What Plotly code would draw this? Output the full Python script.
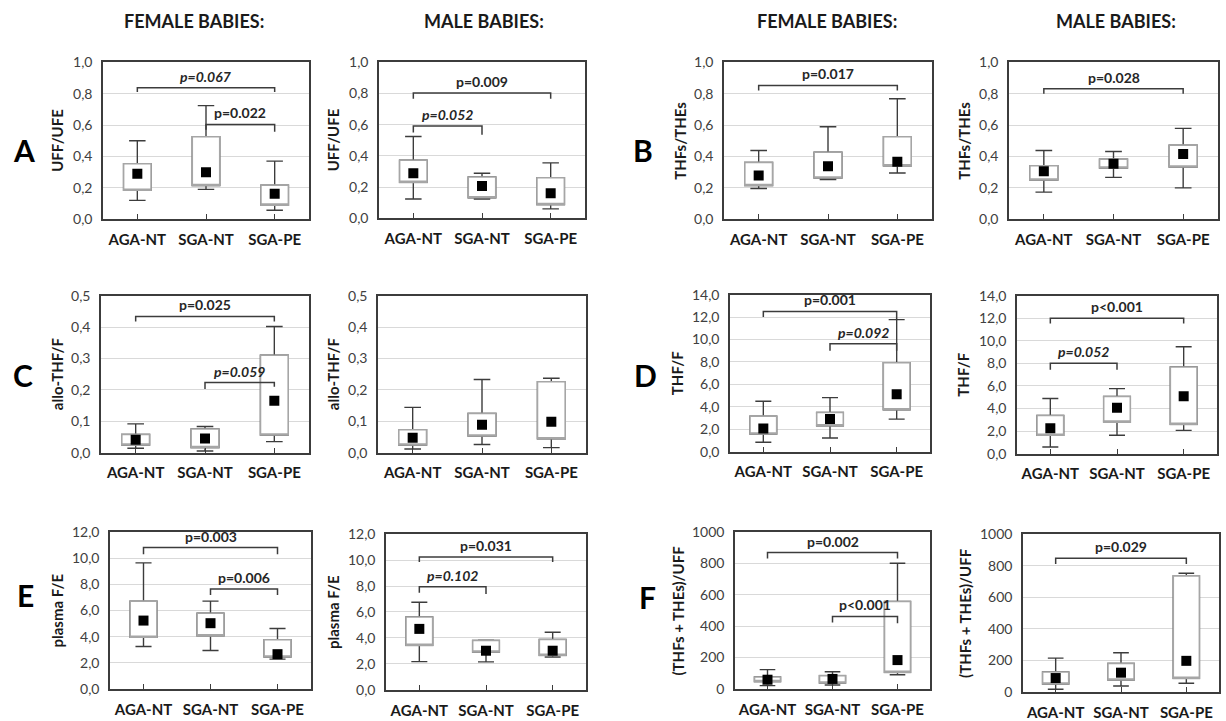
import plotly.graph_objects as go

GROUPS = ["AGA-NT", "SGA-NT", "SGA-PE"]

# ---------------- Panel A : UFF/UFE ----------------
A_F_LOW = [0.12, 0.19, 0.057]
A_F_Q1 = [0.185, 0.215, 0.09]
A_F_MID = [0.29, 0.30, 0.162]
A_F_Q3 = [0.354, 0.526, 0.217]
A_F_HIGH = [0.50, 0.724, 0.37]
A_F_TESTS = [("p=0.067", "AGA-NT", "SGA-PE", 0.838, 0.81, 0.81, True),
             ("p=0.022", "SGA-NT", "SGA-PE", 0.604, 0.57, 0.558, False)]

A_M_LOW = [0.123, 0.123, 0.06]
A_M_Q1 = [0.23, 0.131, 0.087]
A_M_MID = [0.288, 0.207, 0.161]
A_M_Q3 = [0.372, 0.264, 0.26]
A_M_HIGH = [0.524, 0.288, 0.355]
A_M_TESTS = [("p=0.009", "AGA-NT", "SGA-PE", 0.803, 0.767, 0.767, False),
             ("p=0.052", "AGA-NT", "SGA-NT", 0.592, 0.55, 0.535, True)]

# ---------------- Panel B : THFs/THEs ----------------
B_F_LOW = [0.196, 0.253, 0.295]
B_F_Q1 = [0.215, 0.263, 0.341]
B_F_MID = [0.278, 0.337, 0.366]
B_F_Q3 = [0.362, 0.427, 0.526]
B_F_HIGH = [0.438, 0.589, 0.768]
B_F_TESTS = [("p=0.017", "AGA-NT", "SGA-PE", 0.853, 0.821, 0.821, False)]

B_M_LOW = [0.173, 0.267, 0.20]
B_M_Q1 = [0.25, 0.326, 0.333]
B_M_MID = [0.305, 0.354, 0.415]
B_M_Q3 = [0.341, 0.383, 0.472]
B_M_HIGH = [0.438, 0.432, 0.579]
B_M_TESTS = [("p=0.028", "AGA-NT", "SGA-PE", 0.832, 0.80, 0.80, False)]

# ---------------- Panel C : allo-THF/F ----------------
C_F_LOW = [0.0137, 0.005, 0.035]
C_F_Q1 = [0.024, 0.016, 0.056]
C_F_MID = [0.041, 0.045, 0.165]
C_F_Q3 = [0.058, 0.075, 0.31]
C_F_HIGH = [0.0916, 0.083, 0.402]
C_F_TESTS = [("p=0.025", "AGA-NT", "SGA-PE", 0.434, 0.418, 0.418, False),
             ("p=0.059", "SGA-NT", "SGA-PE", 0.223, 0.203, 0.21, True)]

C_M_LOW = [0.0116, 0.026, 0.016]
C_M_Q1 = [0.024, 0.053, 0.044]
C_M_MID = [0.047, 0.089, 0.098]
C_M_Q3 = [0.073, 0.125, 0.226]
C_M_HIGH = [0.144, 0.233, 0.237]
C_M_TESTS = []

# ---------------- Panel D : THF/F ----------------
D_F_LOW = [0.83, 1.21, 2.9]
D_F_Q1 = [1.57, 2.31, 3.73]
D_F_MID = [2.07, 2.9, 5.12]
D_F_Q3 = [3.17, 3.49, 7.93]
D_F_HIGH = [4.5, 4.82, 11.78]
D_F_TESTS = [("p=0.001", "AGA-NT", "SGA-PE", 12.51, 12.0, 11.78, False),
             ("p=0.092", "SGA-NT", "SGA-PE", 9.62, 9.0, 9.0, True)]

D_M_LOW = [0.59, 1.62, 2.06]
D_M_Q1 = [1.62, 2.79, 2.59]
D_M_MID = [2.24, 4.06, 5.09]
D_M_Q3 = [3.38, 5.06, 7.68]
D_M_HIGH = [4.88, 5.76, 9.47]
D_M_TESTS = [("p<0.001", "AGA-NT", "SGA-PE", 12.0, 11.53, 11.53, False),
             ("p=0.052", "AGA-NT", "SGA-NT", 8.0, 7.44, 7.44, True)]

# ---------------- Panel E : plasma F/E ----------------
E_F_LOW = [3.25, 2.94, 2.28]
E_F_Q1 = [3.96, 4.06, 2.44]
E_F_MID = [5.23, 5.03, 2.66]
E_F_Q3 = [6.72, 5.79, 3.76]
E_F_HIGH = [9.64, 6.72, 4.62]
E_F_TESTS = [("p=0.003", "AGA-NT", "SGA-PE", 10.81, 10.3, 10.3, False),
             ("p=0.006", "SGA-NT", "SGA-PE", 7.64, 7.18, 7.18, False)]

E_M_LOW = [2.18, 2.16, 2.54]
E_M_Q1 = [3.43, 2.92, 2.66]
E_M_MID = [4.7, 3.02, 3.02]
E_M_Q3 = [5.61, 3.81, 3.88]
E_M_HIGH = [6.75, 3.83, 4.44]
E_M_TESTS = [("p=0.031", "AGA-NT", "SGA-PE", 10.23, 9.85, 9.85, False),
             ("p=0.102", "AGA-NT", "SGA-NT", 7.94, 7.49, 7.39, True)]

# ---------------- Panel F : (THFs + THEs)/UFF ----------------
F_F_LOW = [21, 25, 91]
F_F_Q1 = [47, 38, 106]
F_F_MID = [59, 64, 184]
F_F_Q3 = [76, 85, 557]
F_F_HIGH = [123, 110, 801]
F_F_TESTS = [("p=0.002", "AGA-NT", "SGA-PE", 869, 831, 831, False),
             ("p<0.001", "SGA-NT", "SGA-PE", 462, 424, 419, False)]

F_M_LOW = [17, 38, 55]
F_M_Q1 = [50, 76, 86]
F_M_MID = [88, 122, 197]
F_M_Q3 = [126, 181, 735]
F_M_HIGH = [214, 248, 752]
F_M_TESTS = [("p=0.029", "AGA-NT", "SGA-PE", 847, 811, 811, False)]

Y_LABELS = ["UFF/UFE", "THFs/THEs", "allo-THF/F", "THF/F", "plasma F/E", "(THFs + THEs)/UFF"]

# ---------------- layout helpers ----------------
W, H = 1226, 721
FONT = "Lato"
DARK = "#3c3c3c"
BOXLINE = "#a6a6a6"
GRID = "#d9d9d9"


def py(y):
    # vertical pixel placement, corrected for the observed page offset/compression
    return y / 0.979 - 8.5


PANELS = [
    dict(rect=(103, 62, 309, 220), ymax=1.0, step=0.2, fmt=".1f", lab=Y_LABELS[0], labx=57,
         d=(A_F_LOW, A_F_Q1, A_F_MID, A_F_Q3, A_F_HIGH, A_F_TESTS)),
    dict(rect=(379, 62, 585, 219), ymax=1.0, step=0.2, fmt=".1f", lab=Y_LABELS[0], labx=333,
         d=(A_M_LOW, A_M_Q1, A_M_MID, A_M_Q3, A_M_HIGH, A_M_TESTS)),
    dict(rect=(724, 62, 932, 220), ymax=1.0, step=0.2, fmt=".1f", lab=Y_LABELS[1], labx=680,
         d=(B_F_LOW, B_F_Q1, B_F_MID, B_F_Q3, B_F_HIGH, B_F_TESTS)),
    dict(rect=(1009, 62, 1218, 220), ymax=1.0, step=0.2, fmt=".1f", lab=Y_LABELS[1], labx=964,
         d=(B_M_LOW, B_M_Q1, B_M_MID, B_M_Q3, B_M_HIGH, B_M_TESTS)),
    dict(rect=(101, 297, 309, 455), ymax=0.5, step=0.1, fmt=".1f", lab=Y_LABELS[2], labx=57,
         d=(C_F_LOW, C_F_Q1, C_F_MID, C_F_Q3, C_F_HIGH, C_F_TESTS)),
    dict(rect=(378, 297, 586, 455), ymax=0.5, step=0.1, fmt=".1f", lab=Y_LABELS[2], labx=333,
         d=(C_M_LOW, C_M_Q1, C_M_MID, C_M_Q3, C_M_HIGH, C_M_TESTS)),
    dict(rect=(730, 296, 930, 454), ymax=14.0, step=2.0, fmt=".1f", lab=Y_LABELS[3], labx=677,
         d=(D_F_LOW, D_F_Q1, D_F_MID, D_F_Q3, D_F_HIGH, D_F_TESTS)),
    dict(rect=(1017, 297, 1217, 456), ymax=14.0, step=2.0, fmt=".1f", lab=Y_LABELS[3], labx=963,
         d=(D_M_LOW, D_M_Q1, D_M_MID, D_M_Q3, D_M_HIGH, D_M_TESTS)),
    dict(rect=(110, 535, 311, 693), ymax=12.0, step=2.0, fmt=".1f", lab=Y_LABELS[4], labx=57,
         d=(E_F_LOW, E_F_Q1, E_F_MID, E_F_Q3, E_F_HIGH, E_F_TESTS)),
    dict(rect=(386, 537, 586, 694), ymax=12.0, step=2.0, fmt=".1f", lab=Y_LABELS[4], labx=333,
         d=(E_M_LOW, E_M_Q1, E_M_MID, E_M_Q3, E_M_HIGH, E_M_TESTS)),
    dict(rect=(735, 535, 930, 693), ymax=1000, step=200, fmt="d", lab=Y_LABELS[5], labx=678,
         d=(F_F_LOW, F_F_Q1, F_F_MID, F_F_Q3, F_F_HIGH, F_F_TESTS)),
    dict(rect=(1023, 537, 1219, 696), ymax=1000, step=200, fmt="d", lab=Y_LABELS[5], labx=965,
         d=(F_M_LOW, F_M_Q1, F_M_MID, F_M_Q3, F_M_HIGH, F_M_TESTS)),
]

fig = go.Figure()
annotations = []
layout_axes = {}
xs = list(range(len(GROUPS)))

for k, p in enumerate(PANELS, start=1):
    l, t, r, b = p["rect"]
    t, b = py(t), py(b)
    xa = "x" if k == 1 else f"x{k}"
    ya = "y" if k == 1 else f"y{k}"
    low, q1, mid, q3, high, tests = p["d"]

    # whiskers (dark)
    fig.add_trace(go.Box(x=xs, q1=q1, median=q1, q3=q3, lowerfence=low, upperfence=high,
                         width=0.4, whiskerwidth=0.6, boxpoints=False,
                         line=dict(color=DARK, width=1.4), fillcolor="white",
                         hoverinfo="skip", showlegend=False, xaxis=xa, yaxis=ya))
    # box body (light outline)
    fig.add_trace(go.Box(x=xs, q1=q1, median=q1, q3=q3, lowerfence=q1, upperfence=q3,
                         width=0.4, whiskerwidth=0, boxpoints=False,
                         line=dict(color=BOXLINE, width=1.6), fillcolor="white",
                         hoverinfo="skip", showlegend=False, xaxis=xa, yaxis=ya))
    # centre squares
    fig.add_trace(go.Scatter(x=xs, y=mid, mode="markers",
                             marker=dict(symbol="square", size=10, color="black"),
                             hoverinfo="skip", showlegend=False, xaxis=xa, yaxis=ya))
    # significance brackets
    for (txt, g1, g2, ybar, yl, yr, ital) in tests:
        i, j = GROUPS.index(g1), GROUPS.index(g2)
        fig.add_trace(go.Scatter(x=[i, i, j, j], y=[yl, ybar, ybar, yr], mode="lines",
                                 line=dict(color=DARK, width=1.5),
                                 hoverinfo="skip", showlegend=False, xaxis=xa, yaxis=ya))
        label = f"<b><i>{txt}</i></b>" if ital else f"<b>{txt}</b>"
        annotations.append(dict(x=(i + j) / 2, y=ybar, xref=xa, yref=ya, text=label,
                                showarrow=False, yanchor="bottom", yshift=1,
                                font=dict(family=FONT, size=14, color="#262626")))

    n = int(round(p["ymax"] / p["step"]))
    tv = [p["step"] * m for m in range(n + 1)]
    layout_axes["xaxis" if k == 1 else f"xaxis{k}"] = dict(
        domain=[l / W, r / W], anchor=ya, range=[-0.5, 2.5],
        tickvals=xs, ticktext=GROUPS, showgrid=False, zeroline=False,
        showline=True, mirror=True, linecolor=DARK, linewidth=1.5,
        ticks="inside", ticklen=5, tickcolor=DARK, tickwidth=1.2,
        ticklabelstandoff=6,
        tickfont=dict(family=FONT, size=15, color="#1a1a1a", weight=700),
        fixedrange=True)
    layout_axes["yaxis" if k == 1 else f"yaxis{k}"] = dict(
        domain=[1 - b / H, 1 - t / H], anchor=xa, range=[0, p["ymax"]],
        tickvals=tv, tickformat=p["fmt"], showgrid=True, gridcolor=GRID, gridwidth=1,
        zeroline=False, showline=True, mirror=True, linecolor=DARK, linewidth=1.5,
        ticks="", ticklabelstandoff=6,
        tickfont=dict(family=FONT, size=14, color="#404040"),
        fixedrange=True)
    annotations.append(dict(x=p["labx"] / W, y=1 - ((t + b) / 2) / H, xref="paper", yref="paper",
                            text=f"<b>{p['lab']}</b>", textangle=-90, showarrow=False,
                            xanchor="center", yanchor="middle",
                            font=dict(family=FONT, size=15, color="#1a1a1a")))

# column titles
for txt, cx in [("FEMALE BABIES:", 194), ("MALE BABIES:", 484),
                ("FEMALE BABIES:", 827), ("MALE BABIES:", 1116)]:
    annotations.append(dict(x=cx / W, y=1 - py(20) / H, xref="paper", yref="paper",
                            text=f"<b>{txt}</b>", showarrow=False,
                            xanchor="center", yanchor="middle",
                            font=dict(family=FONT, size=18, color="#1a1a1a")))

# panel letters
for txt, cx, cy in [("A", 24, 150), ("B", 643, 150), ("C", 23, 377),
                    ("D", 645, 377), ("E", 25, 598), ("F", 647, 600)]:
    annotations.append(dict(x=cx / W, y=1 - py(cy) / H, xref="paper", yref="paper",
                            text=f"<b>{txt}</b>", showarrow=False,
                            xanchor="center", yanchor="middle",
                            font=dict(family=FONT, size=30, color="black")))

fig.update_layout(width=W, height=H, margin=dict(l=0, r=0, t=0, b=0),
                  paper_bgcolor="white", plot_bgcolor="white",
                  separators=",.", boxmode="overlay", showlegend=False,
                  annotations=annotations, **layout_axes)

fig.write_html("out.html", config={"displayModeBar": False},
               post_script=("var s=document.documentElement.style;s.margin='0';s.padding='0';"
                            "s.overflow='hidden';var bs=document.body.style;bs.margin='0';"
                            "bs.padding='0';bs.overflow='hidden';"))
